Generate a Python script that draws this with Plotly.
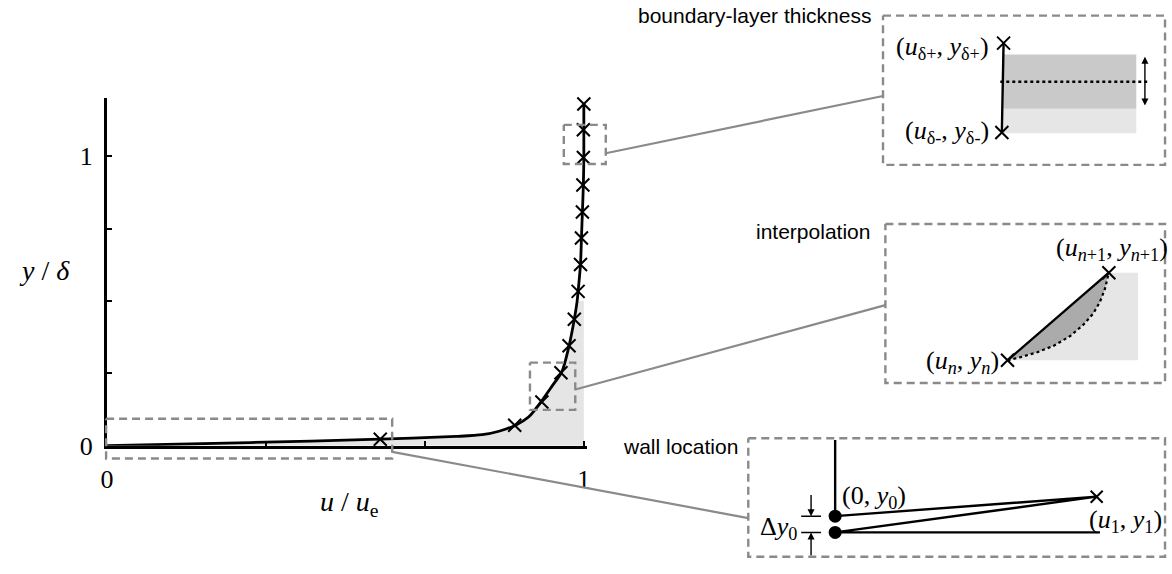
import plotly.graph_objects as go

W, H = 1172, 574

# ---------------------------------------------------------------- profile data
# measured points (crosses) of the velocity profile, u/ue vs y/delta
u_meas = [0.573, 0.855, 0.912, 0.952, 0.969, 0.980, 0.988, 0.993, 0.995, 0.997,
          0.998, 0.999, 0.999, 1.000]
y_meas = [0.0225, 0.071, 0.151, 0.252, 0.345, 0.437, 0.533, 0.626, 0.717, 0.807,
          0.900, 0.995, 1.091, 1.180]

# fitted profile curve
u_prof = [0.0, 0.30, 0.573, 0.732, 0.787, 0.822, 0.857, 0.884, 0.909, 0.933,
          0.954, 0.969, 0.980, 0.986, 0.988, 0.993, 0.995, 0.997, 0.999, 1.000, 1.000]
y_prof = [0.0, 0.011, 0.0225, 0.032, 0.038, 0.050, 0.071, 0.099, 0.149, 0.205,
          0.256, 0.345, 0.437, 0.500, 0.533, 0.626, 0.717, 0.807, 0.900, 0.995, 1.180]

# shaded deficit region reaches up to this height
fill_top = 0.5

x_tick_vals = [0, 1 / 3, 2 / 3, 1]
x_tick_text = ["0", "", "", "1"]
y_tick_vals = [0, 0.25, 0.5, 0.75, 1]
y_tick_text = ["0", "", "", "", "1"]

# zoom windows on the profile: (u0, u1, y0, y1) and the connector start (u, y)
zoom_wall = (-0.002, 0.598, -0.044, 0.093)
zoom_wall_anchor = (0.598, -0.021)
zoom_interp = (0.887, 0.982, 0.124, 0.287)
zoom_interp_anchor = (0.982, 0.194)
zoom_bl = (0.958, 1.046, 0.973, 1.108)
zoom_bl_anchor = (1.046, 1.010)

# ---------------------------------------------------------------- layout geometry (px)
PX_U0, PX_PER_U = 101.0, 481.3      # u = 0 position, px per unit u
PX_Y0, PX_PER_Y = 457.7, 297.4      # y = 0 position, px per unit y
U_MAX, Y_MAX = 1.006, 1.2

# inset frames: (left, right, top, bottom) in px, and connector end points
frame_bl = (884.3, 1169.0, 16.0, 169.3)
frame_interp = (886.7, 1169.0, 230.0, 393.3)
frame_wall = (748.3, 1169.0, 450.0, 571.7)
conn_bl_end = (884.3, 98.6)
conn_interp_end = (886.7, 313.3)
conn_wall_end = (748.3, 532.0)

# ---------------------------------------------------------------- inset schematics
# local coordinates: px from each frame's top-left corner, y downwards
# boundary-layer thickness
bl_cross_x = [121.7, 120.0]
bl_cross_y = [28.3, 120.0]
bl_band_dark = (121.7, 255.7, 40.0, 95.7)
bl_band_light = (121.7, 255.7, 95.7, 120.7)
bl_mid_x = [118.4, 266.7]
bl_mid_y = [68.0, 68.0]
bl_arrow = (264.4, 42.3, 94.0)

# interpolation
ip_cross_x = [123.3, 225.6]
ip_cross_y = [140.0, 50.0]
ip_curve_x = [123.3, 136.6, 153.3, 170.0, 186.6, 200.0, 210.0, 216.6, 221.6, 225.0, 225.6]
ip_curve_y = [140.0, 136.7, 131.7, 125.0, 115.0, 103.3, 91.7, 80.0, 66.7, 53.3, 50.0]
ip_box_right = 255.0

# wall location
wl_wall_x = [87.7, 87.7]
wl_wall_y = [1.7, 80.0]
wl_dot_x = [87.7, 87.7]
wl_dot_y = [80.0, 96.7]
wl_cross_x = [351.7]
wl_cross_y = [60.0]
wl_floor_end = 355.0
wl_dim_x = 63.4
wl_dim_tick = (53.4, 73.4)
wl_dim_arrow_top = 56.7
wl_dim_arrow_bottom = 121.7

SERIF = "Liberation Serif, Times New Roman, serif"
SANS = "Liberation Sans, Arial, sans-serif"
GREY = "#8a8a8a"
DASH = "8px,5px"


def data_px(u, y):
    return PX_U0 + u * PX_PER_U, PX_Y0 - y * PX_PER_Y


def frame_domain(fr):
    l, r, t, b = fr
    return [l / W, r / W], [1 - b / H, 1 - t / H]


fig = go.Figure()

# ---------------------------------------------------------------- main profile
fx = [u for u, y in zip(u_prof, y_prof) if y <= fill_top] + [1.0, 1.0]
fy = [y for y in y_prof if y <= fill_top] + [fill_top, 0.0]
fig.add_trace(go.Scatter(x=fx, y=fy, mode="lines", fill="toself",
                         fillcolor="#e5e5e5", line=dict(width=0),
                         hoverinfo="skip", xaxis="x", yaxis="y"))
fig.add_trace(go.Scatter(x=u_prof, y=y_prof, mode="lines",
                         line=dict(color="black", width=2.8, shape="spline", smoothing=0.8),
                         xaxis="x", yaxis="y"))
fig.add_trace(go.Scatter(x=u_meas, y=y_meas, mode="markers", cliponaxis=False,
                         marker=dict(symbol="x-thin", size=13,
                                     line=dict(color="black", width=2)),
                         xaxis="x", yaxis="y"))

# ---------------------------------------------------------------- zoom boxes + connectors (px overlay)
def add_box_px(l, r, t, b):
    fig.add_trace(go.Scatter(x=[l, r, r, l, l], y=[t, t, b, b, t], mode="lines",
                             line=dict(color=GREY, width=2.4, dash=DASH),
                             hoverinfo="skip", xaxis="x2", yaxis="y2"))


def add_line_px(x0, y0, x1, y1):
    fig.add_trace(go.Scatter(x=[x0, x1], y=[y0, y1], mode="lines",
                             line=dict(color=GREY, width=2.2),
                             hoverinfo="skip", xaxis="x2", yaxis="y2"))


for win, anchor, end in [(zoom_wall, zoom_wall_anchor, conn_wall_end),
                         (zoom_interp, zoom_interp_anchor, conn_interp_end),
                         (zoom_bl, zoom_bl_anchor, conn_bl_end)]:
    u0, u1, y0, y1 = win
    l, t = data_px(u0, y1)
    r, b = data_px(u1, y0)
    add_box_px(l, r, t, b)
    ax_, ay_ = data_px(*anchor)
    add_line_px(ax_, ay_, end[0], end[1])

for fr in (frame_bl, frame_interp, frame_wall):
    add_box_px(fr[0], fr[1], fr[2], fr[3])


# ---------------------------------------------------------------- inset: boundary-layer thickness
def rect(ax, ay, r, color):
    l, rr, t, b = r
    fig.add_trace(go.Scatter(x=[l, rr, rr, l, l], y=[t, t, b, b, t], mode="lines",
                             fill="toself", fillcolor=color, line=dict(width=0),
                             hoverinfo="skip", xaxis=ax, yaxis=ay))


rect("x3", "y3", bl_band_light, "#e6e6e6")
rect("x3", "y3", bl_band_dark, "#c9c9c9")
fig.add_trace(go.Scatter(x=bl_mid_x, y=bl_mid_y, mode="lines",
                         line=dict(color="black", width=2.4, dash="dot"),
                         xaxis="x3", yaxis="y3"))
fig.add_trace(go.Scatter(x=bl_cross_x, y=bl_cross_y, mode="lines+markers",
                         line=dict(color="black", width=2.4),
                         marker=dict(symbol="x-thin", size=13, line=dict(color="black", width=2)),
                         cliponaxis=False, xaxis="x3", yaxis="y3"))

# ---------------------------------------------------------------- inset: interpolation
ip_light_x = ip_curve_x + [ip_box_right, ip_box_right]
ip_light_y = ip_curve_y + [ip_cross_y[1], ip_cross_y[0]]
fig.add_trace(go.Scatter(x=ip_light_x, y=ip_light_y, mode="lines", fill="toself",
                         fillcolor="#e6e6e6", line=dict(width=0), hoverinfo="skip",
                         xaxis="x4", yaxis="y4"))
fig.add_trace(go.Scatter(x=ip_curve_x, y=ip_curve_y,
                         mode="lines", fill="toself", fillcolor="#ababab",
                         line=dict(width=0), hoverinfo="skip", xaxis="x4", yaxis="y4"))
fig.add_trace(go.Scatter(x=ip_curve_x, y=ip_curve_y, mode="lines",
                         line=dict(color="black", width=2.2, dash="dot"),
                         xaxis="x4", yaxis="y4"))
fig.add_trace(go.Scatter(x=ip_cross_x, y=ip_cross_y, mode="lines+markers",
                         line=dict(color="black", width=2.4),
                         marker=dict(symbol="x-thin", size=13, line=dict(color="black", width=2)),
                         cliponaxis=False, xaxis="x4", yaxis="y4"))

# ---------------------------------------------------------------- inset: wall location
fig.add_trace(go.Scatter(x=wl_wall_x, y=wl_wall_y, mode="lines",
                         line=dict(color="black", width=2.4), xaxis="x5", yaxis="y5"))
fig.add_trace(go.Scatter(x=[wl_dot_x[0], wl_cross_x[0], wl_dot_x[1], wl_floor_end],
                         y=[wl_dot_y[0], wl_cross_y[0], wl_dot_y[1], wl_dot_y[1]],
                         mode="lines", line=dict(color="black", width=2.4),
                         xaxis="x5", yaxis="y5"))
fig.add_trace(go.Scatter(x=wl_dot_x, y=wl_dot_y, mode="markers", cliponaxis=False,
                         marker=dict(symbol="circle", size=13, color="black"),
                         xaxis="x5", yaxis="y5"))
fig.add_trace(go.Scatter(x=wl_cross_x, y=wl_cross_y, mode="markers", cliponaxis=False,
                         marker=dict(symbol="x-thin", size=12, line=dict(color="black", width=2)),
                         xaxis="x5", yaxis="y5"))
for yy in wl_dot_y:
    fig.add_trace(go.Scatter(x=list(wl_dim_tick), y=[yy, yy], mode="lines",
                             line=dict(color="black", width=1.5), xaxis="x5", yaxis="y5"))

# ---------------------------------------------------------------- annotations
ann = []


def serif_text(text, x, y, xref, yref, xanchor="center", size=26):
    ann.append(dict(text=text, x=x, y=y, xref=xref, yref=yref, xanchor=xanchor,
                    yanchor="middle", showarrow=False,
                    font=dict(family=SERIF, size=size, color="black")))


def sans_text(text, x, y):
    ann.append(dict(text=text, x=x, y=y, xref="x2", yref="y2", xanchor="right",
                    yanchor="middle", showarrow=False,
                    font=dict(family=SANS, size=21, color="black")))


serif_text("<i>y</i> / <i>δ</i>", 37.5, 278, "x2", "y2", size=28)
serif_text("<i>u</i> / <i>u</i><sub>e</sub>", 346, 517, "x2", "y2", size=28)

sans_text("boundary-layer thickness", 874, 16)
sans_text("interpolation", 873, 238)
sans_text("wall location", 740, 458)

serif_text("(<i>u</i><sub>δ+</sub>, <i>y</i><sub>δ+</sub>)", 109, 33, "x3", "y3", "right")
serif_text("(<i>u</i><sub>δ-</sub>, <i>y</i><sub>δ-</sub>)", 109, 120, "x3", "y3", "right")
serif_text("(<i>u</i><sub><i>n</i>+1</sub>, <i>y</i><sub><i>n</i>+1</sub>)", 229, 26, "x4", "y4")
serif_text("(<i>u</i><sub><i>n</i></sub>, <i>y</i><sub><i>n</i></sub>)", 117, 142, "x4", "y4", "right")
serif_text("(0, <i>y</i><sub>0</sub>)", 93, 60, "x5", "y5", "left")
serif_text("(<i>u</i><sub>1</sub>, <i>y</i><sub>1</sub>)", 342, 85, "x5", "y5", "left")
serif_text("Δ<i>y</i><sub>0</sub>", 51, 92, "x5", "y5", "right")

# dimension arrows
ann.append(dict(x=bl_arrow[0], y=bl_arrow[1], ax=bl_arrow[0], ay=bl_arrow[2],
                xref="x3", yref="y3", axref="x3", ayref="y3", text="", showarrow=True,
                arrowhead=2, startarrowhead=2, arrowside="end+start", arrowsize=1,
                arrowwidth=1.4, arrowcolor="black"))
ann.append(dict(x=wl_dim_x, y=wl_dot_y[0], ax=wl_dim_x, ay=wl_dim_arrow_top,
                xref="x5", yref="y5", axref="x5", ayref="y5", text="", showarrow=True,
                arrowhead=2, arrowsize=1, arrowwidth=1.4, arrowcolor="black"))
ann.append(dict(x=wl_dim_x, y=wl_dot_y[1], ax=wl_dim_x, ay=wl_dim_arrow_bottom,
                xref="x5", yref="y5", axref="x5", ayref="y5", text="", showarrow=True,
                arrowhead=2, arrowsize=1, arrowwidth=1.4, arrowcolor="black"))

# ---------------------------------------------------------------- axes
hidden = dict(visible=False, showgrid=False, zeroline=False, fixedrange=True)

dom_bl = frame_domain(frame_bl)
dom_ip = frame_domain(frame_interp)
dom_wl = frame_domain(frame_wall)

tick_style = dict(showline=True, linewidth=3, linecolor="black",
                  ticks="inside", ticklen=5, tickwidth=2, tickcolor="black",
                  tickfont=dict(family=SERIF, size=26, color="black"),
                  showgrid=False, zeroline=False, fixedrange=True)

fig.update_layout(
    width=W, height=H, margin=dict(l=0, r=0, t=0, b=0),
    paper_bgcolor="white", plot_bgcolor="rgba(0,0,0,0)", showlegend=False,
    annotations=ann,
    xaxis=dict(domain=[PX_U0 / W, (PX_U0 + U_MAX * PX_PER_U) / W], range=[0, U_MAX],
               anchor="y", tickvals=x_tick_vals, ticktext=x_tick_text,
               ticklabelstandoff=8, **tick_style),
    yaxis=dict(domain=[(H - PX_Y0) / H, (H - PX_Y0 + Y_MAX * PX_PER_Y) / H], range=[0, Y_MAX],
               anchor="x", tickvals=y_tick_vals, ticktext=y_tick_text,
               ticklabelstandoff=6, **tick_style),
    xaxis2=dict(domain=[0, 1], range=[0, W], anchor="y2", **hidden),
    yaxis2=dict(domain=[0, 1], range=[H, 0], anchor="x2", **hidden),
    xaxis3=dict(domain=dom_bl[0], range=[0, frame_bl[1] - frame_bl[0]], anchor="y3", **hidden),
    yaxis3=dict(domain=dom_bl[1], range=[frame_bl[3] - frame_bl[2], 0], anchor="x3", **hidden),
    xaxis4=dict(domain=dom_ip[0], range=[0, frame_interp[1] - frame_interp[0]], anchor="y4", **hidden),
    yaxis4=dict(domain=dom_ip[1], range=[frame_interp[3] - frame_interp[2], 0], anchor="x4", **hidden),
    xaxis5=dict(domain=dom_wl[0], range=[0, frame_wall[1] - frame_wall[0]], anchor="y5", **hidden),
    yaxis5=dict(domain=dom_wl[1], range=[frame_wall[3] - frame_wall[2], 0], anchor="x5", **hidden),
)

fig.write_html("out.html")
